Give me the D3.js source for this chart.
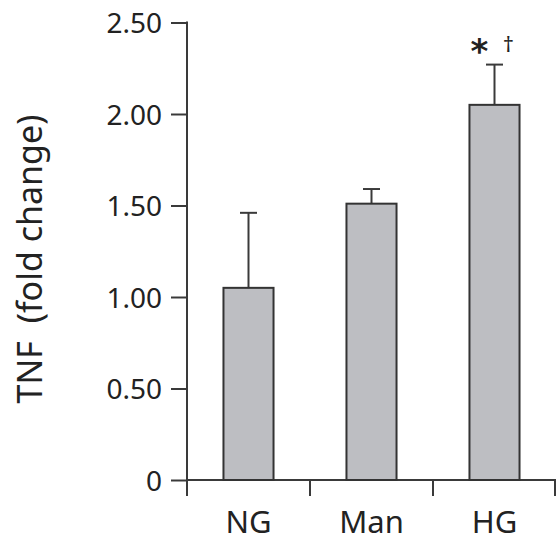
<!DOCTYPE html>
<html>
<head>
<meta charset="utf-8">
<script src="https://cdn.jsdelivr.net/npm/d3@7"></script>
<style>
  html, body { margin: 0; padding: 0; background: #fff; }
  svg { display: block; }
  text { font-family: "Noto Sans", "Open Sans", sans-serif; fill: #222; }
</style>
</head>
<body>
<svg id="chart" width="557" height="545"></svg>
<script>
const categories = ["NG", "Man", "HG"];
const means = [1.05, 1.51, 2.05];
const errors = [0.41, 0.08, 0.22];
const yTickValues = [0, 0.5, 1.0, 1.5, 2.0, 2.5];
const yTickLabels = ["0", "0.50", "1.00", "1.50", "2.00", "2.50"];
const yTitle = "TNF  (fold change)";
const marks = ["*", "†"];

const svg = d3.select("#chart");
const x0 = 187, x1 = 556, yBottom = 480, yTop = 22.5;

const y = d3.scaleLinear().domain([0, 2.5]).range([yBottom, yTop]);
const x = d3.scaleBand().domain(categories).range([x0, x1])
  .paddingInner(0.593).paddingOuter(0.2965);

const axisColor = "#3a3a3a";

// Y axis
const yAxis = d3.axisLeft(y)
  .tickValues(yTickValues)
  .tickFormat((d, i) => yTickLabels[i])
  .tickSize(16).tickPadding(9).tickSizeOuter(0);
const gy = svg.append("g").attr("transform", `translate(${x0},0)`).call(yAxis);
gy.select(".domain").remove();
gy.selectAll(".tick line").attr("stroke", axisColor).attr("stroke-width", 2);
gy.selectAll(".tick text").style("font-size", "28px").attr("fill", "#2a2a30").attr("dy", "0.36em");
svg.append("line").attr("x1", x0).attr("x2", x0).attr("y1", y(2.5) - 1).attr("y2", yBottom + 16)
  .attr("stroke", axisColor).attr("stroke-width", 2);

// X axis line and boundary ticks
svg.append("line").attr("x1", x0 - 1).attr("x2", x1).attr("y1", yBottom).attr("y2", yBottom)
  .attr("stroke", axisColor).attr("stroke-width", 2);
const step = x.step();
const bounds = d3.range(categories.length + 1).map(i => x0 + i * step);
svg.selectAll(".xt").data(bounds.slice(1)).enter().append("line")
  .attr("x1", d => Math.min(d, x1 - 1)).attr("x2", d => Math.min(d, x1 - 1))
  .attr("y1", yBottom).attr("y2", yBottom + 16)
  .attr("stroke", axisColor).attr("stroke-width", 2);

// Category labels
svg.selectAll(".xl").data(categories).enter().append("text")
  .attr("x", d => x(d) + x.bandwidth() / 2)
  .attr("y", 533)
  .attr("text-anchor", "middle")
  .style("font-size", "31px")
  .attr("fill", "#2a2a30")
  .text(d => d);

// Error bars
const capW = 17;
categories.forEach((c, i) => {
  const cx = x(c) + x.bandwidth() / 2;
  svg.append("line").attr("x1", cx).attr("x2", cx)
    .attr("y1", y(means[i])).attr("y2", y(means[i] + errors[i]))
    .attr("stroke", axisColor).attr("stroke-width", 2);
  svg.append("line").attr("x1", cx - capW / 2).attr("x2", cx + capW / 2)
    .attr("y1", y(means[i] + errors[i])).attr("y2", y(means[i] + errors[i]))
    .attr("stroke", axisColor).attr("stroke-width", 2);
});

// Bars
svg.selectAll(".bar").data(categories).enter().append("rect")
  .attr("x", d => x(d))
  .attr("y", (d, i) => y(means[i]))
  .attr("width", x.bandwidth())
  .attr("height", (d, i) => yBottom - y(means[i]))
  .attr("fill", "#bdbec2")
  .attr("stroke", "#333")
  .attr("stroke-width", 2);

// Significance marks above HG
const hgX = x("HG") + x.bandwidth() / 2;
const capY = y(means[2] + errors[2]);
svg.append("text").attr("x", hgX - 15).attr("y", capY - 2)
  .attr("text-anchor", "middle").style("font-size", "34px")
  .style("font-family", "DejaVu Sans").style("font-weight", "bold")
  .attr("fill", "#2a2a3a").text(marks[0]);
svg.append("text").attr("x", hgX + 14).attr("y", capY - 13)
  .attr("text-anchor", "middle").style("font-size", "22px")
  .attr("fill", "#3a2a33").text(marks[1]);

// Y title
svg.append("text")
  .attr("transform", "rotate(-90)")
  .attr("x", -259).attr("y", 42)
  .attr("text-anchor", "middle")
  .style("font-size", "34px")
  .style("white-space", "pre")
  .attr("xml:space", "preserve")
  .attr("fill", "#111")
  .text(yTitle);
</script>
</body>
</html>
